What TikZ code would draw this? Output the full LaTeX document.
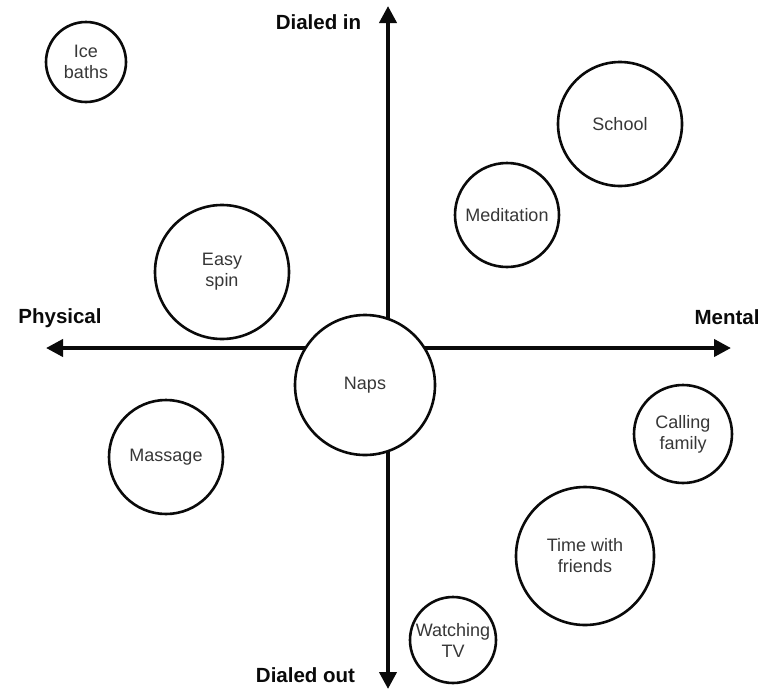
\documentclass[tikz,border=0pt]{standalone}
\usepackage{fontspec}
\setmainfont{Liberation Sans}
\usetikzlibrary{positioning,arrows.meta}
\definecolor{bubbletext}{RGB}{55,55,55}
\definecolor{axisblack}{RGB}{10,10,10}

\begin{document}
\begin{tikzpicture}[x=1pt,y=-1pt,font=\fontsize{18}{21}\selectfont,
    axis/.style={line width=4pt,axisblack,-{Triangle[length=17pt,width=17pt]}},
    bubble/.style={circle,draw=axisblack,line width=2.6pt,fill=white,
        inner sep=0pt,align=center,text=bubbletext},
    axislabel/.style={font=\fontsize{20.5}{24}\selectfont\bfseries,text=axisblack}]
    \useasboundingbox (0,0) rectangle (763,691);
    % axis ends
    \coordinate (centre) at (388,348);
    \coordinate (top) at (388,6);
    \coordinate (bottom) at (388,689);
    \coordinate (left) at (46,348);
    \coordinate (right) at (731,348);
    \draw[axis] (centre) -- (top);
    \draw[axis] (centre) -- (bottom);
    \draw[axis] (centre) -- (left);
    \draw[axis] (centre) -- (right);
    \node[axislabel] (dialin) at (318.5,22) {Dialed in};
    \node[axislabel] (dialout) at (305.5,675) {Dialed out};
    \node[axislabel] (physical) at (60,318) {Physical};
    \node[axislabel] (mental) at (727,317) {Mental};
    % activities
    \foreach \name/\x/\y/\r/\txt in {
        ice/86/62/40/{Ice\\baths}, school/620/124/62/School,
        medit/507/215/52/Meditation, spin/222/272/67/{Easy\\spin},
        naps/365/385/70/Naps, calling/683/434/49/{Calling\\family},
        massage/166/457/57/Massage, friends/585/556/69/{Time with\\friends},
        tv/453/640/43/{Watching\\TV}}{
        \node[bubble,minimum size=2*\r pt] (\name) at (\x,\y) {\txt};
    }
\end{tikzpicture}
\end{document}
